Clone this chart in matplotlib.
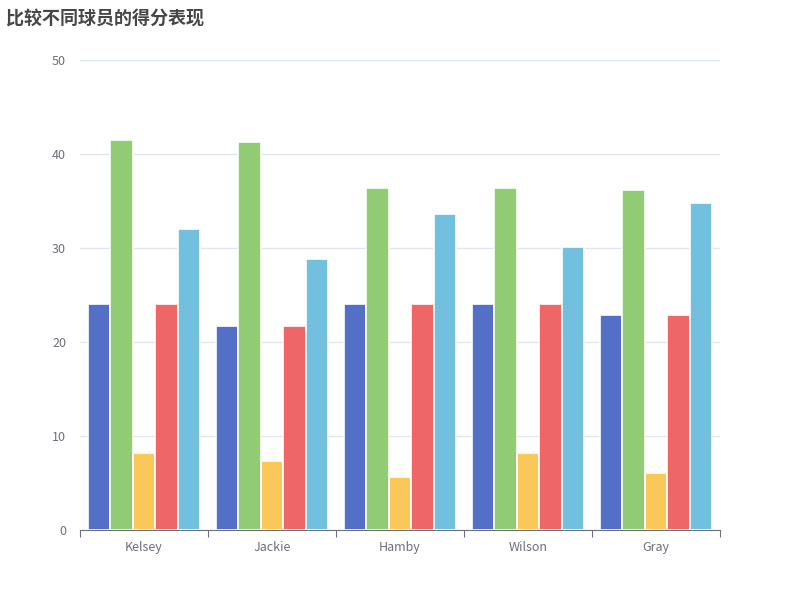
import matplotlib.pyplot as plt
import numpy as np

plt.rcParams['font.family'] = ['Noto Sans CJK SC', 'DejaVu Sans']

players = ['Kelsey', 'Jackie', 'Hamby', 'Wilson', 'Gray']
series_a = [24.0, 21.7, 24.0, 24.0, 22.9]
series_b = [41.5, 41.3, 36.4, 36.4, 36.2]
series_c = [8.2, 7.3, 5.6, 8.2, 6.1]
series_d = [24.0, 21.7, 24.0, 24.0, 22.9]
series_e = [32.0, 28.8, 33.6, 30.1, 34.8]

colors = ['#5470c6', '#91cc75', '#fac858', '#ee6666', '#73c0de']
all_series = [series_a, series_b, series_c, series_d, series_e]

fig = plt.figure(figsize=(8, 6), dpi=100)
ax = fig.add_axes([0.1, 0.1167, 0.8, 0.7833])

x = np.arange(len(players))
slot = 0.176
for i, vals in enumerate(all_series):
    ax.bar(x + (i - 2) * slot, vals, width=slot, color=colors[i],
           edgecolor='white', linewidth=1.2, zorder=3)

ax.set_xlim(-0.5, len(players) - 0.5)
ax.set_ylim(0, 50)
ax.set_yticks(range(0, 51, 10))
ax.grid(axis='y', color='#E0E6F1', linewidth=1, zorder=0)

# ticks at category boundaries, labels in the middle
ax.set_xticks(np.arange(-0.5, len(players), 1))
ax.set_xticklabels([''] * (len(players) + 1))
ax.set_xticks(x, minor=True)
ax.set_xticklabels(players, minor=True)
ax.tick_params(axis='x', which='major', length=5, color='#6E7079')
ax.tick_params(axis='x', which='minor', length=0, pad=8, labelsize=9, labelcolor='#6E7079')
ax.tick_params(axis='y', length=0, pad=10, labelsize=9, labelcolor='#6E7079')

for s in ['top', 'right', 'left']:
    ax.spines[s].set_visible(False)
ax.spines['bottom'].set_color('#6E7079')

fig.text(0.008, 0.985, '比较不同球员的得分表现', fontsize=13, fontweight='bold',
         color='#464646', va='top', ha='left')

fig.savefig('out.png', dpi=100)
